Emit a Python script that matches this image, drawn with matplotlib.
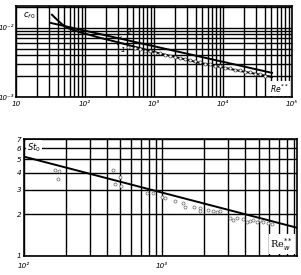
import matplotlib
matplotlib.use("Agg")
import matplotlib.pyplot as plt
from matplotlib.ticker import LogLocator, NullFormatter, FixedLocator

plt.rcParams["mathtext.default"] = "it"

# ---------------- data: top panel (cf0 vs Re**) ----------------
curve1_re = [33.2, 39.3, 46.4, 56.7, 84.7, 165, 321, 1105, 4640, 17600, 51300]
curve1_cf = [0.01542, 0.01306, 0.01125, 0.00984, 0.00861, 0.00716, 0.00607,
             0.00435, 0.00311, 0.00238, 0.00195]
curve2_re = [31, 51300]
curve2_cf = [0.0118, 0.00223]

top_pts_re = [420, 531, 627, 741, 875, 1033, 1222, 1442, 1706, 2014, 2382, 2812,
              3325, 3926, 4642, 5484, 6486, 7660, 9057, 10700, 12630, 14930,
              17630, 20840, 24600, 29100, 34360, 40600]
top_pts_cf = [0.00531, 0.00505, 0.00500, 0.00465, 0.00460, 0.00436, 0.00425,
              0.00400, 0.00396, 0.00376, 0.00371, 0.00352, 0.00346, 0.00330,
              0.00318, 0.00303, 0.00298, 0.00283, 0.00279, 0.00265, 0.00261,
              0.00247, 0.00243, 0.00231, 0.00228, 0.00217, 0.00213, 0.00203]

top_xticks = [10, 1e2, 1e3, 1e4, 1e5]
top_xlabels = ["10", "10²", "10³", "10⁴", "10⁵"]
top_yticks = [1e-3, 1e-2]
top_ylabels = ["10⁻³", "10⁻²"]

# ---------------- data: bottom panel (St0 vs Re**) ----------------
line_re = [100, 9500]
line_st = [5.22, 1.60]

bot_pts_re = [168, 179, 176, 442, 497, 456, 505, 778, 861, 1000, 1051, 1243, 1419,
              1468, 1706, 1885, 1885, 2153, 2343, 2505, 2633, 3110, 3268, 3490,
              3860, 4130, 4340, 4560, 4880, 5130, 5390, 5860, 6260]
bot_pts_st = [4.20, 4.13, 3.61, 4.20, 3.74, 3.32, 3.22, 2.86, 2.86, 2.68, 2.63,
              2.50, 2.42, 2.26, 2.26, 2.23, 2.12, 2.15, 2.12, 2.08, 2.10, 1.88,
              1.82, 1.88, 1.85, 1.76, 1.79, 1.82, 1.76, 1.82, 1.76, 1.73, 1.71]

bot_xticks = [1e2, 1e3, 1e4]
bot_xlabels = ["10²", "10³", "10⁴"]
bot_yticks = [1, 2, 3, 4, 5, 6, 7]
bot_ylabels = ["1", "2", "3", "4", "5", "6", "7"]

fig = plt.figure(figsize=(3.01, 2.75), dpi=100)
fs = 5.2
tf = dict(fontsize=fs, style="italic")

def style_axes(ax):
    for s in ax.spines.values():
        s.set_linewidth(1.2)
        s.set_color("black")
    ax.tick_params(which="both", length=0)
    ax.grid(which="both", color="black", linewidth=1.0)
    ax.set_axisbelow(True)

# ---------- top ----------
ax1 = fig.add_axes([16/301, 1-97/275, 276/301, 91/275])
ax1.set_xscale("log")
ax1.set_yscale("log")
ax1.set_xlim(10, 1e5)
ax1.set_ylim(1e-3, 0.0206)
ax1.xaxis.set_major_locator(FixedLocator(top_xticks))
ax1.xaxis.set_minor_locator(LogLocator(base=10, subs=range(2, 10)))
ax1.xaxis.set_minor_formatter(NullFormatter())
ax1.yaxis.set_major_locator(FixedLocator(top_yticks))
ax1.yaxis.set_minor_locator(LogLocator(base=10, subs=range(2, 10)))
ax1.yaxis.set_minor_formatter(NullFormatter())
ax1.set_xticklabels(top_xlabels, **tf)
ax1.set_yticklabels(top_ylabels, fontsize=5, style="italic")
ax1.tick_params(axis="x", pad=3)
ax1.tick_params(axis="y", pad=1)
style_axes(ax1)

ax1.plot(curve1_re, curve1_cf, color="black", lw=1.4, zorder=4)
ax1.plot(curve2_re, curve2_cf, color="black", lw=1.4, zorder=4)
ax1.plot(top_pts_re, top_pts_cf, "o", ms=2.2, mfc="white", mec="0.25", mew=0.5, zorder=5)

ax1.annotate("2", xy=(321, 0.00716), xytext=(400, 0.0088), **tf,
             ha="left", va="center", arrowprops=dict(arrowstyle="-", lw=0.6, color="black"),
             zorder=6)
ax1.annotate("1", xy=(291, 0.00586), xytext=(330, 0.0047), **tf,
             ha="left", va="center", arrowprops=dict(arrowstyle="-", lw=0.6, color="black"),
             zorder=6)
ax1.text(0.025, 0.89, "$c_{f\\,0}$", transform=ax1.transAxes, fontsize=6,
         ha="left", va="center", bbox=dict(fc="white", ec="none", pad=0.5), zorder=6)
ax1.text(0.953, 0.09, "$Re^{**}$", transform=ax1.transAxes, fontsize=5.5,
         ha="center", va="center", bbox=dict(fc="white", ec="none", pad=1.0), zorder=6)

# ---------- bottom ----------
ax2 = fig.add_axes([24/301, 19/275, 273/301, 117/275])
ax2.set_xscale("log")
ax2.set_yscale("log")
ax2.set_xlim(100, 9500)
ax2.set_ylim(1, 7)
ax2.xaxis.set_major_locator(FixedLocator(bot_xticks))
ax2.xaxis.set_minor_locator(LogLocator(base=10, subs=range(2, 10)))
ax2.xaxis.set_minor_formatter(NullFormatter())
ax2.yaxis.set_major_locator(FixedLocator(bot_yticks))
ax2.yaxis.set_minor_locator(FixedLocator([]))
ax2.set_xticklabels(bot_xlabels, **tf)
ax2.set_yticklabels(bot_ylabels, **tf)
ax2.tick_params(axis="x", pad=5)
ax2.tick_params(axis="y", pad=2)
style_axes(ax2)

ax2.plot(line_re, line_st, color="black", lw=1.4, zorder=4)
ax2.plot(bot_pts_re, bot_pts_st, "o", ms=2.2, mfc="white", mec="0.4", mew=0.5, zorder=5)

ax2.text(0.012, 0.925, "$St_0$", transform=ax2.transAxes, fontsize=6,
         ha="left", va="center", bbox=dict(fc="white", ec="none", pad=0.8), zorder=6)
ax2.text(0.945, 0.10, "Re$^{**}_{w}$", transform=ax2.transAxes, fontsize=7,
         family="DejaVu Serif", ha="center", va="center",
         bbox=dict(fc="white", ec="none", pad=1.2), zorder=6)

fig.savefig("out.png", dpi=100)
